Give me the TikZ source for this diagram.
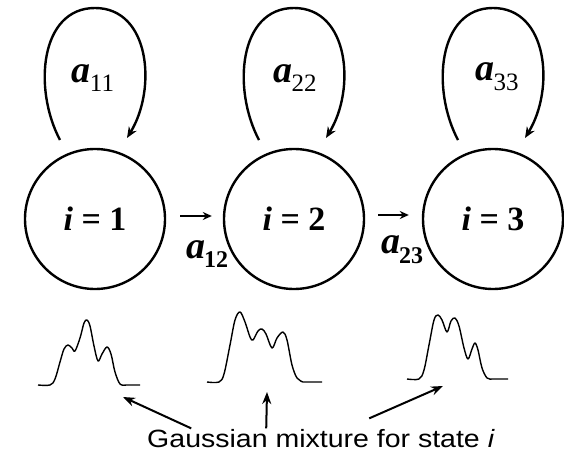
\documentclass[tikz,border=0pt]{standalone}
\usepackage{fontspec}
\setmainfont{Liberation Serif}
\newfontfamily\labsans{Liberation Sans}
\usetikzlibrary{arrows.meta,calc}
\newcommand\stlab[2]{\fontsize{38}{38}\selectfont\textbf{\textit{#1}}\kern-1pt\raisebox{-0.26em}{\fontsize{25}{25}\selectfont #2}}
\newcommand\stlabb[2]{\fontsize{38}{38}\selectfont\textbf{\textit{#1}}\kern-1pt\raisebox{-0.26em}{\fontsize{24}{24}\selectfont\bfseries #2}}
\begin{document}
\begin{tikzpicture}[x=1pt,y=-1pt,
  state/.style={circle,draw,line width=2.4pt,minimum size=140pt,inner sep=0pt,
    font=\fontsize{34}{34}\selectfont\bfseries},
  selfloop/.style={line width=2.4pt,-{Stealth[length=11pt,width=9pt]}},
  harrow/.style={line width=1.8pt,-{Stealth[length=9pt,width=8pt]}},
  parrow/.style={line width=2pt,-{Stealth[length=12pt,width=9pt]}},
  curve/.style={line width=1.4pt,line join=round}]
\useasboundingbox (0,0) rectangle (564,454);
\fill[white] (0,0) rectangle (564,454);
% states
\node[state] (s1) at (95,219) {\textit{i\/} = 1};
\node[state] (s2) at (294,219) {\textit{i\/} = 2};
\node[state] (s3) at (493,219) {\textit{i\/} = 3};
% self loops
\foreach \s in {s1,s2,s3}{
  \draw[selfloop] ($(\s.center)+(-35,-79)$) .. controls ($(\s.center)+(-62,-130)$) and ($(\s.center)+(-55,-211)$) .. ($(\s.center)+(0,-211)$)
     .. controls ($(\s.center)+(55,-211)$) and ($(\s.center)+(62,-130)$) .. ($(\s.center)+(32,-81)$);
}
\node (l11) at (93,78) {\stlab{a}{11}};
\node (l22) at (295,78) {\stlab{a}{22}};
\node (l33) at (497,77) {\stlab{a}{33}};
% transitions
\draw[harrow] ($(s1.east)+(14,-3)$) -- ($(s2.west)+(-11,-3)$);
\draw[harrow] ($(s2.east)+(13,-4)$) -- ($(s3.west)+(-13,-4)$);
\node (l12) at (207,254) {\stlabb{a}{12}};
\node (l23) at (402,250) {\stlabb{a}{23}};
% gaussian mixtures
\draw[curve] plot[smooth,tension=0.55] coordinates {(38,385) (50,385) (55,379) (60,362) (64,349) (68,345) (72,348) (75,351) (80,338) (84,323) (87,320) (90,326) (94,346) (98,361) (102,354) (107,347) (111,354) (115,372) (120,384) (126,385)} -- (140,385);
\draw[curve] plot[smooth,tension=0.55] coordinates {(207,382) (219,382) (224,374) (230,345) (235,320) (240,312) (245,322) (250,337) (253,340) (258,331) (262,329) (266,334) (272,348) (277,338) (283,332) (287,340) (292,365) (297,378) (303,382)} -- (322,382);
\draw[curve] plot[smooth,tension=0.55] coordinates {(407,379) (419,379) (424,370) (429,345) (434,320) (438,315) (442,320) (447,332) (451,321) (455,318) (459,326) (464,348) (468,359) (472,349) (475,343) (478,350) (482,368) (487,378) (492,379)} -- (508,379);
% caption
\node[font=\labsans\fontsize{25}{25}\selectfont,anchor=base,xscale=1.14] (cap) at (321,447) {Gaussian mixture for state \textit{i}};
\coordinate (g1) at (123,397);
\coordinate (g2) at (267,392);
\coordinate (g3) at (443,386);
\coordinate (c1) at ($(cap.west|-cap.north)+(48,3)$);
\coordinate (c2) at ($(cap.west|-cap.north)+(123,3)$);
\coordinate (c3) at ($(cap.west|-cap.north)+(226,-7)$);
\draw[parrow] (c1) -- (g1);
\draw[parrow] (c2) -- (g2);
\draw[parrow] (c3) -- (g3);
\end{tikzpicture}
\end{document}
